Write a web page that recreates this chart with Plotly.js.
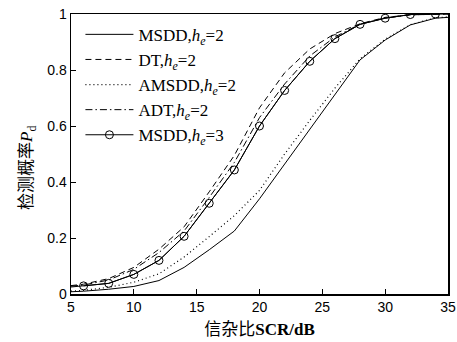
<!DOCTYPE html>
<html>
<head>
<meta charset="utf-8">
<script src="https://cdn.plot.ly/plotly-3.0.1.min.js"></script>
<style>html,body{margin:0;padding:0;background:#fff;}#chart{width:457px;height:342px;}</style>
</head>
<body>
<div id="chart"></div>
<script>
// SCR (dB)
const scr = [5, 6, 8, 10, 12, 14, 16, 18, 20, 22, 24, 26, 28, 30, 32, 34, 35];
const msdd2 = [0.008, 0.010, 0.017, 0.027, 0.048, 0.095, 0.158, 0.225, 0.340, 0.465, 0.590, 0.715, 0.836, 0.907, 0.961, 0.985, 0.988];
const dt2 = [0.030, 0.035, 0.055, 0.095, 0.160, 0.240, 0.365, 0.495, 0.665, 0.790, 0.875, 0.930, 0.965, 0.988, 0.997, 1.000, 1.000];
const amsdd2 = [0.010, 0.013, 0.024, 0.042, 0.072, 0.132, 0.205, 0.280, 0.370, 0.500, 0.620, 0.735, 0.840, 0.910, 0.962, 0.986, 0.990];
const adt2 = [0.028, 0.032, 0.050, 0.088, 0.148, 0.225, 0.345, 0.470, 0.630, 0.750, 0.850, 0.918, 0.964, 0.986, 0.997, 1.000, 1.000];
const msdd3 = [0.025, 0.029, 0.038, 0.070, 0.120, 0.206, 0.324, 0.443, 0.600, 0.727, 0.831, 0.912, 0.963, 0.985, 0.998, 1.000, 1.000];
// marker positions (every 2 dB from 6 to 34)
const markerScr = scr.slice(1, 16);
const markerMsdd3 = msdd3.slice(1, 16);

const names = [
  'MSDD,<i>h</i><sub><i>e</i></sub>=2',
  'DT,<i>h</i><sub><i>e</i></sub>=2',
  'AMSDD,<i>h</i><sub><i>e</i></sub>=2',
  'ADT,<i>h</i><sub><i>e</i></sub>=2',
  'MSDD,<i>h</i><sub><i>e</i></sub>=3'
];
const xTicks = [5, 10, 15, 20, 25, 30, 35];
const yTicks = [0, 0.2, 0.4, 0.6, 0.8, 1];
const yTickText = ['0', '0.2', '0.4', '0.6', '0.8', '1'];

const black = '#000';
const traces = [
  {x: scr, y: msdd2, name: names[0], mode: 'lines', line: {color: black, width: 1}},
  {x: scr, y: dt2, name: names[1], mode: 'lines', line: {color: black, width: 1, dash: '6px,4px'}},
  {x: scr, y: amsdd2, name: names[2], mode: 'lines', line: {color: black, width: 1.2, dash: '1px,3px'}},
  {x: scr, y: adt2, name: names[3], mode: 'lines', line: {color: black, width: 1, dash: '7px,3px,1.5px,3px'}},
  {x: scr, y: msdd3, name: names[4], mode: 'lines', showlegend: false, line: {color: black, width: 1}},
  {x: markerScr, y: markerMsdd3, name: names[4], mode: 'lines+markers', line: {color: black, width: 1},
   marker: {symbol: 'circle-open', size: 8, color: black, line: {width: 1, color: black}}}
];

const axisCommon = {
  showgrid: false, zeroline: false, showline: true, mirror: true,
  linecolor: black, linewidth: 1.5, ticks: 'inside', ticklen: 5, tickwidth: 1, tickcolor: black,
  tickfont: {family: 'Liberation Sans, Arial, sans-serif', size: 14, color: black}
};

const layout = {
  width: 457, height: 342,
  margin: {l: 71, r: 9, t: 14, b: 48},
  paper_bgcolor: '#fff', plot_bgcolor: '#fff',
  showlegend: true,
  legend: {
    x: 0.025, y: 0.99, xanchor: 'left', yanchor: 'top',
    bgcolor: 'rgba(0,0,0,0)', borderwidth: 0,
    font: {family: 'Liberation Serif, Times New Roman, serif', size: 17, color: black},
    itemwidth: 48, tracegroupgap: 0
  },
  xaxis: Object.assign({}, axisCommon, {
    range: [5, 35], tickvals: xTicks, ticktext: xTicks.map(String),
    title: {text: '<span style="font-family:Noto Sans CJK SC">信杂比</span><b>SCR/dB</b>',
            font: {family: 'Liberation Serif, serif', size: 17, color: black}, standoff: 6}
  }),
  yaxis: Object.assign({}, axisCommon, {
    range: [0, 1], tickvals: yTicks, ticktext: yTickText
  }),
  annotations: [{
    text: '<span style="font-family:Noto Sans CJK SC">检测概率</span><i>P</i><sub>d</sub>',
    xref: 'paper', yref: 'paper', x: -0.122, y: 0.45, xanchor: 'center', yanchor: 'middle',
    textangle: -90, showarrow: false,
    font: {family: 'Liberation Serif, serif', size: 17, color: black}
  }]
};

Plotly.newPlot('chart', traces, layout, {displayModeBar: false, staticPlot: true});
</script>
</body>
</html>
